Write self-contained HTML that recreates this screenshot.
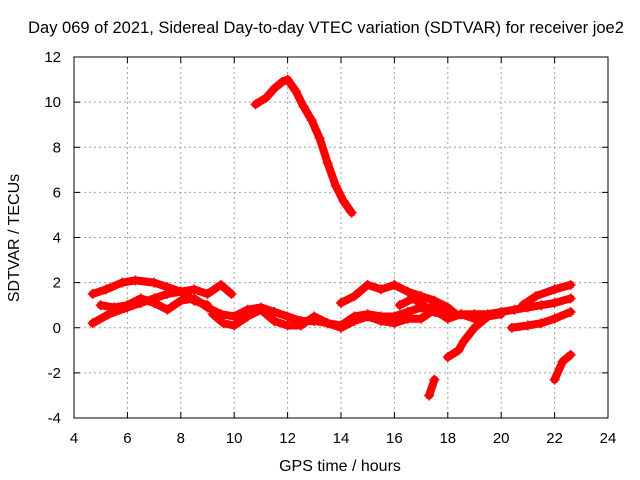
<!DOCTYPE html>
<html><head><meta charset="utf-8"><style>
body{margin:0;background:#fff}
svg{display:block;font-family:"Liberation Sans",sans-serif}
</style></head><body>
<svg id="chart" width="640" height="480">
<text x="326" y="33" font-size="16.5" text-anchor="middle">Day 069 of 2021, Sidereal Day-to-day VTEC variation (SDTVAR) for receiver joe2</text>
<text x="340" y="471" font-size="16" text-anchor="middle">GPS time / hours</text>
<text x="19" y="238" font-size="16" text-anchor="middle" transform="rotate(-90 19 238)">SDTVAR / TECUs</text>
<g id="grid"></g><g id="series"></g><g id="axes"></g>
</svg>
<script>
const xTicks=[4,6,8,10,12,14,16,18,20,22,24];
const yTicks=[-4,-2,0,2,4,6,8,10,12];
const trackA=[[4.7,1.5],[5.2,1.7],[5.8,2.0],[6.3,2.1],[7,2.0],[7.5,1.8],[8,1.6],[8.5,1.7],[9,1.5],[9.5,1.9],[9.9,1.5]];
const trackB=[[4.7,0.2],[5.3,0.6],[6,0.9],[6.5,1.1],[7,1.3],[7.5,1.5],[8,1.6],[8.5,1.2],[9,1.0]];
const trackC=[[5,1.0],[5.5,0.9],[6,1.0],[6.5,1.3],[7,1.1],[7.5,0.8],[8,1.2],[8.5,1.3],[9,0.9],[9.5,0.6],[10,0.5],[10.5,0.8],[11,0.9],[11.5,0.7],[12,0.5],[12.5,0.3],[13,0.3],[13.5,0.2],[14,0.1],[14.5,0.5],[15,0.6],[15.5,0.5],[16,0.5],[16.5,0.7],[17,0.9],[17.5,0.7],[18,0.5],[18.5,0.6],[19,0.6],[19.5,0.6],[20,0.7],[20.5,0.8],[21,0.9],[21.5,1.0],[22,1.1],[22.6,1.3]];
const trackD=[[9.2,0.6],[9.6,0.2],[10,0.1],[10.5,0.5],[11,0.8],[11.5,0.3],[12,0.1],[12.5,0.1],[13,0.5],[13.5,0.2],[14,0.0],[14.5,0.3],[15,0.5],[15.5,0.3],[16,0.2],[16.5,0.4],[17,0.4],[17.5,0.8],[18,0.4],[18.5,0.6],[19,0.4],[19.5,0.5],[20,0.6]];
const trackE=[[14.0,1.1],[14.5,1.4],[15,1.9],[15.5,1.7],[16,1.9],[16.5,1.6],[17,1.4],[17.5,1.2],[18,0.9],[18.3,0.6]];
const trackF=[[16.2,1.0],[16.7,1.3],[17.2,0.9],[17.7,0.9],[18.2,0.6]];
const trackG=[[20.8,1.0],[21.3,1.4],[22,1.7],[22.6,1.9]];
const trackH=[[20.4,0.0],[21,0.1],[21.5,0.2],[22,0.4],[22.6,0.7]];
const trackI=[[18,-1.3],[18.4,-1.0],[18.6,-0.6],[19,0.0],[19.5,0.5]];
const trackJ=[[17.3,-3.0],[17.5,-2.3]];
const trackK=[[22.0,-2.3],[22.3,-1.5],[22.6,-1.2]];
const trackL=[[10.8,9.9],[11.2,10.2],[11.5,10.6],[11.8,10.9],[12,11.0],[12.3,10.5],[12.6,9.8],[12.9,9.2],[13.2,8.4],[13.5,7.3],[13.8,6.3],[14.1,5.6],[14.4,5.1]];
const tracks=[trackA,trackB,trackC,trackD,trackE,trackF,trackG,trackH,trackI,trackJ,trackK,trackL];
const L=74,R=608,T=57,B=418;
const sx=v=>L+(v-4)/20*(R-L);
const sy=v=>B-(v+4)/16*(B-T);
const NS="http://www.w3.org/2000/svg";
const grid=document.getElementById('grid'),axes=document.getElementById('axes'),ser=document.getElementById('series');
function mk(p,tag,a){const e=document.createElementNS(NS,tag);for(const k in a)e.setAttribute(k,a[k]);p.appendChild(e);return e;}
xTicks.forEach(t=>{const x=sx(t);
 if(t>4&&t<24){const g=mk(grid,'line',{x1:x,x2:x,y1:T,y2:B,stroke:'#a0a0a0','stroke-dasharray':'2,3'});
 
 }
 mk(axes,'line',{x1:x,x2:x,y1:B,y2:B-6,stroke:'#000'});mk(axes,'line',{x1:x,x2:x,y1:T,y2:T+6,stroke:'#000'});
 const l=mk(axes,'text',{x:x,y:B+25,'font-size':15,'text-anchor':'middle'});l.textContent=t;
 
 });
yTicks.forEach(t=>{const y=sy(t);
 if(t>-4&&t<12){const g=mk(grid,'line',{x1:L,x2:R,y1:y,y2:y,stroke:'#a0a0a0','stroke-dasharray':'2,3'});
 
 }
 mk(axes,'line',{x1:L,x2:L+6,y1:y,y2:y,stroke:'#000'});mk(axes,'line',{x1:R,x2:R-6,y1:y,y2:y,stroke:'#000'});
 const l=mk(axes,'text',{x:L-13,y:y+5,'font-size':15,'text-anchor':'end'});l.textContent=t;
 
 });
const fr=mk(axes,'rect',{x:L,y:T,width:R-L,height:B-T,fill:'none',stroke:'#000'});


tracks.forEach(tr=>{
 const pl=mk(ser,'polyline',{points:tr.map(p=>sx(p[0])+','+sy(p[1])).join(' '),fill:'none',stroke:'#f00','stroke-width':8,'stroke-linejoin':'round','stroke-linecap':'round'});
 
 
 tr.forEach(p=>{const x=sx(p[0]),y=sy(p[1]);
  const m=mk(ser,'path',{d:`M${x-5},${y}h10M${x},${y-5}v10`,stroke:'#f00','stroke-width':1.5});
  
  });
});
</script>
</body></html>
